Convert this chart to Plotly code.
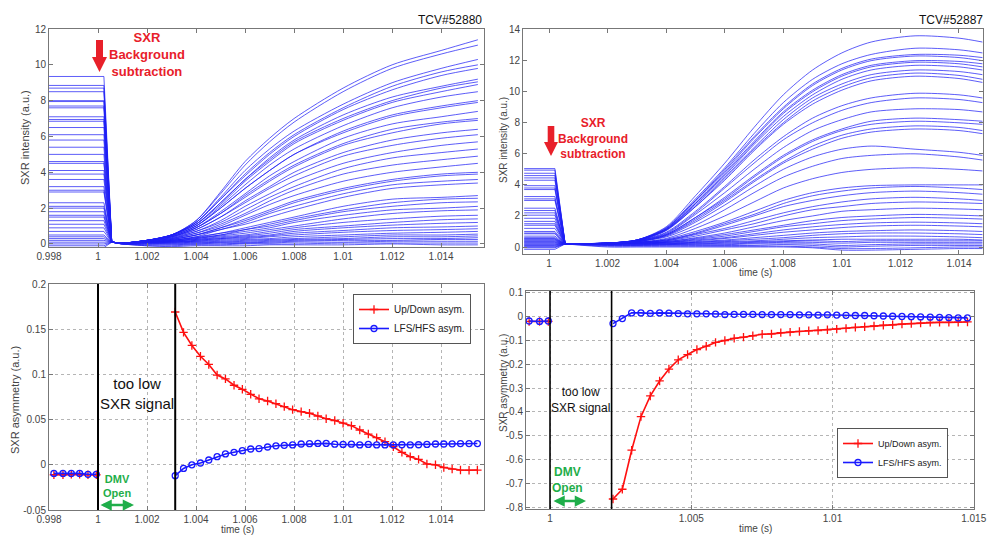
import plotly.graph_objects as go

# ---------------- DATA ----------------
# Top-left (TCV#52880): SXR intensity traces
tl_pre_t = [0.998, 1.00024]
tl_drop_t = 1.00056
tl_drop_level = 0.1
tl_t = [1.001, 1.002, 1.003, 1.004, 1.005, 1.006, 1.007, 1.008, 1.010, 1.012, 1.014, 1.0155]
tl_pre = [9.35, 8.85, 8.7, 8.5, 8.0, 7.95, 7.7, 7.6, 7.1, 6.95, 6.85, 6.5, 6.1, 5.8, 5.4, 5.0, 4.6, 4.5,
          4.1, 3.9, 3.6, 3.2, 3.0, 2.9, 2.3, 2.1, 2.0, 1.8, 1.6, 1.5, 1.3, 1.1, 0.9, 0.7, 0.5, 0.4, 0.3,
          0.2, 0.1, 0.0, -0.1, -0.2]
tl_post = [
    [0.05, 0.2, 0.5, 1.3, 2.9, 4.6, 5.9, 7.0, 8.7, 10.0, 10.8, 11.4],
    [0.05, 0.2, 0.5, 1.3, 2.8, 4.4, 5.7, 6.8, 8.5, 9.8, 10.6, 11.1],
    [0.05, 0.2, 0.5, 1.2, 2.6, 4.1, 5.3, 6.3, 7.8, 9.0, 9.8, 10.3],
    [0.05, 0.2, 0.5, 1.2, 2.5, 3.9, 5.1, 6.1, 7.6, 8.8, 9.6, 10.0],
    [0.05, 0.2, 0.5, 1.2, 2.5, 3.8, 5.0, 6.0, 7.5, 8.6, 9.4, 9.8],
    [0.05, 0.2, 0.5, 1.1, 2.3, 3.6, 4.8, 5.8, 7.2, 8.2, 8.8, 9.2],
    [0.05, 0.2, 0.5, 1.1, 2.3, 3.6, 4.7, 5.7, 7.0, 8.0, 8.7, 9.05],
    [0.05, 0.2, 0.5, 1.1, 2.2, 3.5, 4.6, 5.6, 6.9, 7.9, 8.5, 8.9],
    [0.05, 0.2, 0.45, 1.0, 2.1, 3.3, 4.4, 5.3, 6.6, 7.6, 8.2, 8.5],
    [0.05, 0.2, 0.45, 1.0, 2.0, 3.1, 4.1, 5.0, 6.3, 7.2, 7.7, 8.0],
    [0.05, 0.2, 0.45, 1.0, 2.0, 3.1, 4.1, 5.0, 6.2, 7.1, 7.6, 7.9],
    [0.05, 0.2, 0.4, 0.9, 1.8, 2.8, 3.8, 4.6, 5.9, 6.7, 7.1, 7.4],
    [0.05, 0.2, 0.4, 0.9, 1.7, 2.7, 3.6, 4.4, 5.6, 6.4, 6.8, 7.0],
    [0.05, 0.2, 0.4, 0.9, 1.7, 2.6, 3.5, 4.3, 5.5, 6.2, 6.7, 6.9],
    [0.05, 0.15, 0.4, 0.8, 1.5, 2.4, 3.2, 4.0, 5.1, 5.8, 6.2, 6.4],
    [0.05, 0.15, 0.35, 0.8, 1.5, 2.3, 3.1, 3.8, 4.9, 5.5, 5.9, 6.1],
    [0.05, 0.15, 0.35, 0.7, 1.3, 2.1, 2.8, 3.5, 4.5, 5.1, 5.5, 5.7],
    [0.05, 0.15, 0.3, 0.7, 1.2, 1.9, 2.6, 3.2, 4.2, 4.8, 5.1, 5.3],
    [0.05, 0.15, 0.3, 0.6, 1.1, 1.7, 2.4, 3.0, 3.9, 4.4, 4.7, 4.9],
    [0.05, 0.15, 0.3, 0.6, 1.0, 1.6, 2.2, 2.7, 3.5, 4.0, 4.3, 4.5],
    [0.05, 0.1, 0.25, 0.5, 0.9, 1.4, 1.9, 2.4, 3.1, 3.6, 3.9, 4.0],
    [0.05, 0.1, 0.25, 0.5, 0.9, 1.3, 1.8, 2.3, 3.0, 3.5, 3.8, 3.9],
    [0.05, 0.1, 0.25, 0.5, 0.8, 1.2, 1.7, 2.1, 2.8, 3.3, 3.5, 3.6],
    [0.05, 0.1, 0.2, 0.4, 0.8, 1.1, 1.5, 1.9, 2.6, 3.1, 3.3, 3.4],
    [0.05, 0.1, 0.2, 0.4, 0.6, 0.9, 1.2, 1.5, 2.1, 2.5, 2.6, 2.7],
    [0.05, 0.1, 0.2, 0.35, 0.6, 0.8, 1.1, 1.4, 1.9, 2.3, 2.5, 2.55],
    [0.05, 0.1, 0.2, 0.35, 0.5, 0.8, 1.0, 1.3, 1.8, 2.1, 2.3, 2.35],
    [0.05, 0.1, 0.15, 0.3, 0.5, 0.7, 0.9, 1.2, 1.6, 1.9, 2.0, 2.1],
    [0.05, 0.1, 0.15, 0.3, 0.45, 0.6, 0.8, 1.0, 1.4, 1.7, 1.85, 1.9],
    [0.05, 0.1, 0.15, 0.25, 0.4, 0.5, 0.7, 0.9, 1.2, 1.4, 1.55, 1.6],
    [0.05, 0.1, 0.15, 0.25, 0.35, 0.45, 0.6, 0.8, 1.0, 1.2, 1.35, 1.4],
    [0.05, 0.1, 0.1, 0.2, 0.3, 0.4, 0.5, 0.7, 0.9, 1.05, 1.15, 1.2],
    [0.05, 0.1, 0.1, 0.2, 0.3, 0.35, 0.45, 0.6, 0.75, 0.9, 0.95, 1.0],
    [0.05, 0.05, 0.1, 0.15, 0.25, 0.3, 0.4, 0.5, 0.65, 0.75, 0.8, 0.85],
    [0.05, 0.05, 0.1, 0.15, 0.2, 0.25, 0.3, 0.4, 0.5, 0.6, 0.65, 0.7],
    [0.0, 0.05, 0.05, 0.1, 0.15, 0.2, 0.25, 0.3, 0.4, 0.5, 0.5, 0.55],
    [0.0, 0.0, 0.05, 0.1, 0.1, 0.15, 0.2, 0.25, 0.3, 0.4, 0.4, 0.45],
    [0.0, 0.0, 0.0, 0.05, 0.1, 0.1, 0.15, 0.2, 0.25, 0.3, 0.3, 0.35],
    [0.0, 0.0, 0.0, 0.0, 0.05, 0.05, 0.1, 0.15, 0.2, 0.2, 0.25, 0.25],
    [0.0, -0.05, -0.05, 0.0, 0.0, 0.05, 0.05, 0.1, 0.1, 0.15, 0.15, 0.15],
    [0.0, -0.1, -0.1, -0.05, -0.05, 0.0, 0.0, 0.0, 0.05, 0.05, 0.05, 0.05],
    [0.0, -0.1, -0.15, -0.1, -0.1, -0.1, -0.05, -0.05, -0.05, 0.0, -0.05, -0.05],
]

# Top-right (TCV#52887): SXR intensity traces
tr_pre_t = [0.99915, 1.0002]
tr_drop_t = 1.00055
tr_drop_level = 0.2
tr_t = [1.002, 1.003, 1.004, 1.005, 1.006, 1.007, 1.008, 1.009, 1.010, 1.011, 1.0125, 1.014, 1.0148]
tr_pre = [5.05, 4.95, 4.75, 4.6, 4.45, 4.3, 3.95, 3.8, 3.7, 3.25, 3.1, 3.0, 2.5, 2.35, 2.2, 2.05, 1.85,
          1.65, 1.5, 1.4, 1.2, 1.0, 0.9, 0.85, 0.7, 0.6, 0.55, 0.5, 0.45, 0.4, 0.35, 0.3, 0.25, 0.2,
          0.15, 0.1, 0.05, 0.0, -0.05, -0.15]
tr_post = [
    [0.25, 0.45, 1.3, 3.3, 5.4, 7.7, 9.8, 11.4, 12.5, 13.2, 13.6, 13.45, 13.2],
    [0.25, 0.45, 1.25, 3.1, 5.1, 7.3, 9.3, 10.8, 11.8, 12.4, 12.8, 12.7, 12.5],
    [0.25, 0.45, 1.2, 3.0, 5.0, 7.1, 9.0, 10.5, 11.5, 12.1, 12.4, 12.35, 12.2],
    [0.25, 0.45, 1.2, 3.0, 4.9, 7.0, 8.9, 10.4, 11.4, 12.0, 12.3, 12.2, 12.0],
    [0.25, 0.45, 1.15, 2.9, 4.8, 6.8, 8.7, 10.1, 11.1, 11.7, 12.0, 11.95, 11.8],
    [0.25, 0.45, 1.15, 2.8, 4.7, 6.7, 8.6, 10.0, 11.0, 11.6, 11.9, 11.8, 11.6],
    [0.25, 0.45, 1.1, 2.8, 4.6, 6.6, 8.4, 9.8, 10.8, 11.4, 11.7, 11.6, 11.4],
    [0.25, 0.4, 1.1, 2.7, 4.5, 6.4, 8.2, 9.6, 10.5, 11.1, 11.4, 11.3, 11.1],
    [0.25, 0.4, 1.1, 2.6, 4.4, 6.3, 8.0, 9.4, 10.3, 10.9, 11.2, 11.05, 10.8],
    [0.25, 0.4, 1.05, 2.6, 4.3, 6.2, 7.9, 9.2, 10.1, 10.7, 11.0, 10.85, 10.6],
    [0.25, 0.4, 0.95, 2.3, 3.9, 5.6, 7.1, 8.3, 9.1, 9.6, 9.9, 9.8, 9.6],
    [0.25, 0.4, 0.9, 2.2, 3.8, 5.4, 6.9, 8.0, 8.8, 9.3, 9.6, 9.5, 9.3],
    [0.25, 0.4, 0.85, 2.1, 3.5, 5.0, 6.4, 7.5, 8.2, 8.7, 8.9, 8.85, 8.7],
    [0.25, 0.4, 0.8, 1.9, 3.2, 4.6, 5.9, 6.9, 7.6, 8.1, 8.3, 8.2, 8.1],
    [0.25, 0.35, 0.8, 1.9, 3.1, 4.5, 5.8, 6.8, 7.5, 7.9, 8.1, 8.0, 7.9],
    [0.25, 0.35, 0.75, 1.8, 3.0, 4.3, 5.5, 6.5, 7.2, 7.6, 7.8, 7.7, 7.5],
    [0.25, 0.35, 0.75, 1.7, 2.9, 4.2, 5.4, 6.3, 7.0, 7.4, 7.6, 7.5, 7.3],
    [0.25, 0.35, 0.7, 1.6, 2.7, 3.9, 5.0, 5.8, 6.3, 6.5, 6.3, 6.1, 5.9],
    [0.2, 0.35, 0.65, 1.4, 2.4, 3.5, 4.5, 5.2, 5.7, 5.9, 6.0, 5.8, 5.6],
    [0.2, 0.3, 0.55, 1.2, 2.0, 2.9, 3.8, 4.4, 4.8, 5.0, 5.1, 5.0, 4.9],
    [0.2, 0.3, 0.5, 1.0, 1.6, 2.3, 3.0, 3.5, 3.8, 3.95, 4.0, 4.0, 4.0],
    [0.2, 0.3, 0.45, 0.9, 1.5, 2.1, 2.8, 3.3, 3.6, 3.8, 3.9, 3.8, 3.7],
    [0.2, 0.3, 0.45, 0.85, 1.4, 2.0, 2.6, 3.0, 3.3, 3.5, 3.6, 3.5, 3.4],
    [0.2, 0.3, 0.4, 0.8, 1.2, 1.7, 2.2, 2.6, 2.9, 3.1, 3.2, 3.1, 3.0],
    [0.2, 0.3, 0.4, 0.7, 1.1, 1.5, 2.0, 2.4, 2.6, 2.8, 2.9, 2.85, 2.8],
    [0.2, 0.25, 0.35, 0.6, 0.9, 1.3, 1.7, 2.0, 2.3, 2.4, 2.5, 2.45, 2.4],
    [0.2, 0.25, 0.35, 0.55, 0.8, 1.1, 1.4, 1.7, 1.9, 2.0, 2.1, 2.05, 2.0],
    [0.2, 0.25, 0.3, 0.5, 0.7, 1.0, 1.3, 1.5, 1.7, 1.8, 1.9, 1.85, 1.8],
    [0.2, 0.25, 0.3, 0.45, 0.6, 0.85, 1.1, 1.3, 1.45, 1.55, 1.6, 1.55, 1.5],
    [0.2, 0.25, 0.3, 0.4, 0.55, 0.75, 0.95, 1.1, 1.25, 1.35, 1.4, 1.35, 1.3],
    [0.2, 0.2, 0.25, 0.35, 0.45, 0.6, 0.75, 0.9, 1.0, 1.05, 1.1, 1.05, 1.0],
    [0.2, 0.2, 0.25, 0.3, 0.4, 0.5, 0.6, 0.75, 0.85, 0.9, 0.9, 0.85, 0.8],
    [0.2, 0.2, 0.2, 0.3, 0.35, 0.4, 0.5, 0.6, 0.65, 0.7, 0.7, 0.65, 0.6],
    [0.15, 0.2, 0.2, 0.25, 0.3, 0.35, 0.4, 0.45, 0.5, 0.5, 0.5, 0.5, 0.45],
    [0.15, 0.15, 0.2, 0.2, 0.25, 0.3, 0.35, 0.4, 0.35, 0.4, 0.4, 0.4, 0.4],
    [0.15, 0.15, 0.15, 0.2, 0.2, 0.25, 0.3, 0.3, 0.25, 0.3, 0.3, 0.3, 0.3],
    [0.1, 0.1, 0.15, 0.15, 0.15, 0.2, 0.2, 0.2, 0.1, 0.15, 0.2, 0.2, 0.2],
    [0.1, 0.1, 0.1, 0.1, 0.1, 0.1, 0.15, 0.1, 0.0, 0.05, 0.1, 0.1, 0.1],
    [0.05, 0.05, 0.05, 0.05, 0.05, 0.05, 0.05, 0.0, -0.1, -0.1, -0.05, 0.0, 0.0],
    [0.0, 0.0, 0.0, 0.0, 0.0, 0.0, 0.0, -0.05, -0.2, -0.2, -0.15, -0.1, -0.1],
]

# Bottom-left asymmetries (TCV#52880)
bl_pre_t = [0.9982, 0.99857, 0.99891, 0.99925, 0.99959, 0.99993]
bl_pre_ud = [-0.011, -0.011, -0.0105, -0.0105, -0.011, -0.011]
bl_pre_lh = [-0.0095, -0.0095, -0.0095, -0.0095, -0.0105, -0.0105]
bl_t = [1.00315, 1.00349, 1.00383, 1.00418, 1.00452, 1.00486, 1.0052, 1.00555, 1.00589, 1.00623,
        1.00657, 1.00692, 1.00726, 1.0076, 1.00794, 1.00829, 1.00863, 1.00897, 1.00931, 1.00966,
        1.01, 1.01034, 1.01068, 1.01103, 1.01137, 1.01171, 1.01205, 1.0124, 1.01274, 1.01308,
        1.01342, 1.01377, 1.01411, 1.01445, 1.01479, 1.01514, 1.01548]
bl_ud = [0.169, 0.1465, 0.132, 0.12, 0.111, 0.0993, 0.095, 0.088, 0.0835, 0.078, 0.073, 0.0706,
         0.0676, 0.0643, 0.061, 0.0588, 0.057, 0.054, 0.051, 0.049, 0.046, 0.0433, 0.0385, 0.034,
         0.030, 0.0256, 0.020, 0.0138, 0.009, 0.006, 0.0009, 0.0, -0.003, -0.0047, -0.0058, -0.006,
         -0.0058]
bl_lh = [-0.012, -0.004, 0.0, 0.002, 0.0053, 0.009, 0.012, 0.0138, 0.0156, 0.0175, 0.018, 0.0197,
         0.021, 0.0215, 0.022, 0.023, 0.0234, 0.0237, 0.0237, 0.0228, 0.0225, 0.0228, 0.022, 0.0225,
         0.022, 0.022, 0.022, 0.0222, 0.022, 0.0222, 0.0225, 0.023, 0.023, 0.0232, 0.0235, 0.0235,
         0.0235]
bl_gap = [1.0, 1.00315]

# Bottom-right asymmetries (TCV#52887)
br_pre_t = [0.99926, 0.99963, 0.99994]
br_pre_ud = [-0.02, -0.02, -0.02]
br_pre_lh = [-0.018, -0.02, -0.018]
br_t = [1.00223, 1.00256, 1.00289, 1.00322, 1.00355, 1.00388, 1.00421, 1.00454, 1.00487, 1.0052,
        1.00553, 1.00586, 1.00619, 1.00652, 1.00685, 1.00718, 1.00751, 1.00784, 1.00817, 1.0085,
        1.00883, 1.00916, 1.00949, 1.00982, 1.01015, 1.01048, 1.01081, 1.01114, 1.01147, 1.0118,
        1.01213, 1.01246, 1.01279, 1.01312, 1.01346, 1.01379, 1.01412, 1.01445, 1.01478]
br_ud = [-0.766, -0.725, -0.561, -0.42, -0.333, -0.27, -0.22, -0.181, -0.159, -0.138, -0.124, -0.108,
         -0.1, -0.091, -0.086, -0.08, -0.074, -0.072, -0.067, -0.065, -0.062, -0.059, -0.058, -0.055,
         -0.052, -0.049, -0.045, -0.042, -0.039, -0.036, -0.034, -0.031, -0.029, -0.027, -0.024,
         -0.024, -0.024, -0.023, -0.022]
br_lh = [-0.029, -0.008, 0.016, 0.016, 0.014, 0.016, 0.015, 0.013, 0.012, 0.012, 0.012, 0.011, 0.009,
         0.01, 0.01, 0.01, 0.009, 0.009, 0.009, 0.009, 0.008, 0.008, 0.007, 0.008, 0.007, 0.006, 0.005,
         0.005, 0.004, 0.003, 0.002, 0.001, 0.0, -0.001, -0.002, -0.003, -0.004, -0.005, -0.005]
br_gap = [1.0, 1.00218]

# Tick labels
tl_xticks = [0.998, 1.0, 1.002, 1.004, 1.006, 1.008, 1.01, 1.012, 1.014]
tl_xtext = ["0.998", "1", "1.002", "1.004", "1.006", "1.008", "1.01", "1.012", "1.014"]
tl_yticks = [0, 2, 4, 6, 8, 10, 12]
tr_xticks = [1.0, 1.002, 1.004, 1.006, 1.008, 1.01, 1.012, 1.014]
tr_xtext = ["1", "1.002", "1.004", "1.006", "1.008", "1.01", "1.012", "1.014"]
tr_yticks = [0, 2, 4, 6, 8, 10, 12, 14]
bl_yticks = [-0.05, 0, 0.05, 0.1, 0.15, 0.2]
bl_ytext = ["-0.05", "0", "0.05", "0.1", "0.15", "0.2"]
br_xticks = [1.0, 1.005, 1.01, 1.015]
br_xtext = ["1", "1.005", "1.01", "1.015"]
br_yticks = [-0.8, -0.7, -0.6, -0.5, -0.4, -0.3, -0.2, -0.1, 0, 0.1]
br_ytext = ["-0.8", "-0.7", "-0.6", "-0.5", "-0.4", "-0.3", "-0.2", "-0.1", "0", "0.1"]

# ---------------- FIGURE ----------------
W, H = 987, 536
def px(x): return x / W
def py(y): return 1 - y / H

FONT = "Liberation Sans, Arial, sans-serif"
BLUE_LINE = "rgba(30,30,245,0.72)"
RED = "#ff1010"
BLUE = "#1a1aff"
GREEN = "#1fae4a"
REDTXT = "#e8202a"

fig = go.Figure()

def intensity(pre_t, drop_t, drop_lvl, grid, pre, row, xa, ya):
    # plateau and drop (straight), then smooth recovery
    fig.add_trace(go.Scatter(x=pre_t + [drop_t], y=[pre, pre, drop_lvl],
                             mode="lines", line=dict(color=BLUE_LINE, width=1),
                             xaxis=xa, yaxis=ya, showlegend=False, hoverinfo="skip"))
    fig.add_trace(go.Scatter(x=[drop_t] + grid, y=[drop_lvl] + row,
                             mode="lines", line=dict(color=BLUE_LINE, width=1, shape="spline",
                                                     smoothing=0.8),
                             xaxis=xa, yaxis=ya, showlegend=False, hoverinfo="skip"))

for pre, row in zip(tl_pre, tl_post):
    intensity(tl_pre_t, tl_drop_t, tl_drop_level, tl_t, pre, row, "x", "y")
for pre, row in zip(tr_pre, tr_post):
    intensity(tr_pre_t, tr_drop_t, tr_drop_level, tr_t, pre, row, "x2", "y2")

def asym(xs, ys, color, sym, name, xa, ya, legend, show):
    return go.Scatter(x=xs, y=ys, mode="lines+markers", name=name,
                      line=dict(color=color, width=1.6),
                      marker=dict(symbol=sym, size=6, color=color, line=dict(color=color, width=1.3)),
                      xaxis=xa, yaxis=ya, legend=legend, showlegend=show)

fig.add_trace(asym(bl_pre_t, bl_pre_ud, RED, "cross-thin", "Up/Down asym.", "x3", "y3", "legend", False))
fig.add_trace(asym(bl_pre_t, bl_pre_lh, BLUE, "circle-open", "LFS/HFS asym.", "x3", "y3", "legend", False))
fig.add_trace(asym(bl_t, bl_ud, RED, "cross-thin", "Up/Down asym.", "x3", "y3", "legend", True))
fig.add_trace(asym(bl_t, bl_lh, BLUE, "circle-open", "LFS/HFS asym.", "x3", "y3", "legend", True))
fig.add_trace(asym(br_pre_t, br_pre_ud, RED, "cross-thin", "Up/Down asym.", "x4", "y4", "legend2", False))
fig.add_trace(asym(br_pre_t, br_pre_lh, BLUE, "circle-open", "LFS/HFS asym.", "x4", "y4", "legend2", False))
fig.add_trace(asym(br_t, br_ud, RED, "cross-thin", "Up/Down asym.", "x4", "y4", "legend2", True))
fig.add_trace(asym(br_t, br_lh, BLUE, "circle-open", "LFS/HFS asym.", "x4", "y4", "legend2", True))

def ax(domain, rng, tv, tt, grid, anchor):
    return dict(domain=domain, range=rng, tickvals=tv, ticktext=tt, anchor=anchor,
                automargin=False, ticklabeloverflow="allow",
                showline=True, linecolor="#777", linewidth=1, mirror="ticks",
                ticks="inside", ticklen=4, tickcolor="#777",
                tickfont=dict(family=FONT, size=10, color="#444"),
                showgrid=grid, gridcolor="#b5b5b5", griddash="dot", gridwidth=1,
                zeroline=False)

fig.update_layout(
    width=W, height=H, margin=dict(l=0, r=0, t=0, b=0, pad=0), autosize=False,
    paper_bgcolor="white", plot_bgcolor="white",
    font=dict(family=FONT),
    xaxis=ax([px(49), px(484)], [0.998, 1.01575], tl_xticks, tl_xtext, False, "y"),
    yaxis=ax([py(247), py(29)], [-0.17, 12], tl_yticks, [str(v) for v in tl_yticks], False, "x"),
    xaxis2=ax([px(523), px(983)], [0.99911, 1.01482], tr_xticks, tr_xtext, False, "y2"),
    yaxis2=ax([py(254), py(29)], [-0.45, 14.04], tr_yticks, [str(v) for v in tr_yticks], False, "x2"),
    xaxis3=ax([px(49), px(484)], [0.998, 1.01575], tl_xticks, tl_xtext, True, "y3"),
    yaxis3=ax([py(510), py(284)], [-0.05, 0.2], bl_yticks, bl_ytext, True, "x3"),
    xaxis4=ax([px(526), px(974)], [0.99915, 1.01501], br_xticks, br_xtext, True, "y4"),
    yaxis4=ax([py(509), py(291)], [-0.808, 0.108], br_yticks, br_ytext, True, "x4"),
    legend=dict(x=px(353), y=py(294), xanchor="left", yanchor="top",
                bordercolor="#555", borderwidth=1, bgcolor="white",
                font=dict(family=FONT, size=10, color="#222"), tracegroupgap=0, itemwidth=30),
    legend2=dict(x=px(837), y=py(428), xanchor="left", yanchor="top",
                 bordercolor="#555", borderwidth=1, bgcolor="white",
                 font=dict(family=FONT, size=9, color="#222"), tracegroupgap=0, itemwidth=30),
)

shapes = []
for g in bl_gap:
    shapes.append(dict(type="line", xref="x3", yref="y3 domain", x0=g, x1=g, y0=0, y1=1,
                       line=dict(color="black", width=2)))
for g in br_gap:
    shapes.append(dict(type="line", xref="x4", yref="y4 domain", x0=g, x1=g, y0=0, y1=1,
                       line=dict(color="black", width=1.6)))

def red_arrow(cx, ytop, yneck, ytip, shaft_hw, head_hw):
    path = (f"M {px(cx-shaft_hw)} {py(ytop)} L {px(cx+shaft_hw)} {py(ytop)} "
            f"L {px(cx+shaft_hw)} {py(yneck)} L {px(cx+head_hw)} {py(yneck)} "
            f"L {px(cx)} {py(ytip)} L {px(cx-head_hw)} {py(yneck)} "
            f"L {px(cx-shaft_hw)} {py(yneck)} Z")
    return dict(type="path", xref="paper", yref="paper", path=path,
                fillcolor=REDTXT, line=dict(color=REDTXT, width=0))

shapes.append(red_arrow(99.5, 40, 57, 72, 3.5, 7.5))
shapes.append(red_arrow(551, 126, 142, 156, 3.3, 7))
fig.update_layout(shapes=shapes)

ann = []
def txt(x, y, s, size, color="black", bold=False, xanchor="center", angle=0):
    if bold:
        s = "<b>" + s + "</b>"
    ann.append(dict(x=px(x), y=py(y), xref="paper", yref="paper", text=s, showarrow=False,
                    xanchor=xanchor, yanchor="middle", textangle=angle,
                    font=dict(family=FONT, size=size, color=color)))

txt(484, 20, "TCV#52880", 12, "#111", xanchor="right")
txt(985, 20, "TCV#52887", 12, "#111", xanchor="right")
txt(147, 54, "SXR<br>Background<br>subtraction", 13, REDTXT, bold=True)
txt(593, 139, "SXR<br>Background<br>subtraction", 12, REDTXT, bold=True)
txt(25, 138, "SXR intensity (a.u.)", 11, "#444", angle=-90)
txt(503, 140, "SXR intensity (a.u.)", 10, "#444", angle=-90)
txt(15, 400, "SXR asymmetry (a.u.)", 11, "#444", angle=-90)
txt(503, 383, "SXR asymmetry (a.u.)", 10, "#444", angle=-90)
txt(755, 272, "time (s)", 10, "#444")
txt(755, 528, "time (s)", 10, "#444")
txt(237, 529, "time (s)", 10, "#444")
txt(137, 393, "too low<br>SXR signal", 15, "#111")
txt(580, 400, "too low<br>SXR signal", 12, "#111")
txt(117, 486, "DMV<br>Open", 11, GREEN, bold=True)
txt(567, 480, "DMV<br>Open", 12, GREEN, bold=True)

# green double arrows
ann.append(dict(x=px(134), y=py(505), xref="paper", yref="paper", ax=-35, ay=0, text="",
                showarrow=True, arrowhead=2, startarrowhead=2, arrowside="end+start",
                arrowsize=0.9, arrowwidth=2.5, arrowcolor=GREEN))
ann.append(dict(x=px(586), y=py(501), xref="paper", yref="paper", ax=-34, ay=0, text="",
                showarrow=True, arrowhead=2, startarrowhead=2, arrowside="end+start",
                arrowsize=0.9, arrowwidth=2.5, arrowcolor=GREEN))
fig.update_layout(annotations=ann)

fig.write_html("out.html", config={"displayModeBar": False},
               post_script="document.body.style.margin='0px';document.body.style.overflow='hidden';")
